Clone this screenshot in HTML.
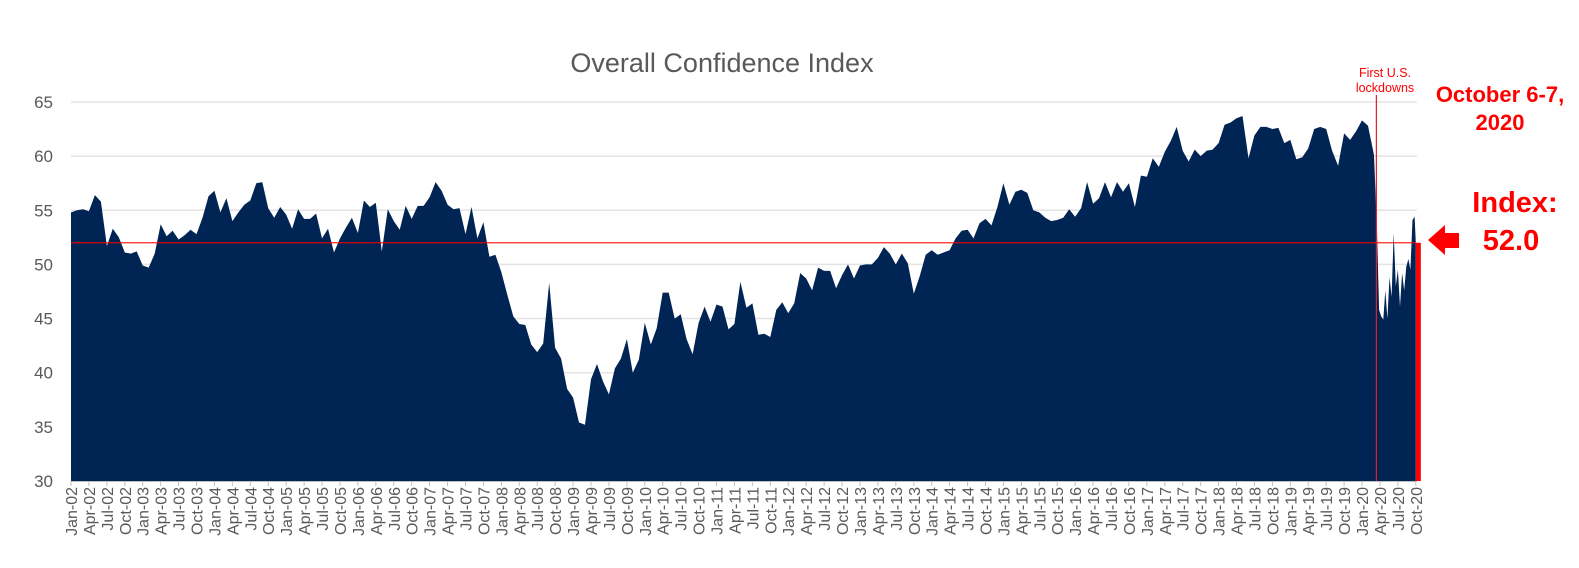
<!DOCTYPE html>
<html><head><meta charset="utf-8">
<style>
html,body{margin:0;padding:0;background:#fff;}
svg{display:block;font-family:"Liberation Sans",Arial,sans-serif;}
</style></head>
<body>
<svg id="chart" width="1579" height="568" viewBox="0 0 1579 568">
  <text x="722" y="72" text-anchor="middle" font-size="27" fill="#595959">Overall Confidence Index</text>
  <g id="grid"></g>
  <g id="ylabels"></g>
  <g id="area"></g>
  <g id="xaxis"></g>
  <g id="annot">
    <text x="1385" y="77" text-anchor="middle" font-size="12.5" fill="#ff0000">First U.S.</text>
    <text x="1385" y="92" text-anchor="middle" font-size="12.5" fill="#ff0000">lockdowns</text>
    <text x="1500" y="102" text-anchor="middle" font-size="22" font-weight="bold" fill="#ff0000">October 6-7,</text>
    <text x="1500" y="130" text-anchor="middle" font-size="22" font-weight="bold" fill="#ff0000">2020</text>
    <text x="1515" y="212" text-anchor="middle" font-size="29" font-weight="bold" fill="#ff0000">Index:</text>
    <text x="1511" y="250" text-anchor="middle" font-size="29" font-weight="bold" fill="#ff0000">52.0</text>
    <polygon points="1428,240 1445,225 1445,233 1459,233 1459,248 1445,248 1445,255" fill="#ff0000"/>
  </g>
</svg>
<script>
// Monthly values Jan-02 .. Mar-20
const monthlyValues = [
54.8,55,55.1,54.9,56.4,55.8,51.7,53.3,52.5,51.1,51,51.2,
49.9,49.7,51,53.7,52.6,53.1,52.3,52.7,53.2,52.8,54.3,56.3,
56.8,54.8,56.1,54,54.8,55.5,55.9,57.5,57.6,55.2,54.3,55.3,
54.6,53.3,55.1,54.2,54.2,54.7,52.4,53.3,51.1,52.4,53.4,54.3,
52.9,55.9,55.3,55.7,51.2,55.1,54,53.2,55.4,54.2,55.4,55.4,
56.2,57.6,56.8,55.5,55.1,55.2,52.8,55.3,52.4,53.9,50.7,50.9,
49.3,47.2,45.2,44.5,44.4,42.6,41.9,42.7,48.3,42.3,41.3,38.5,
37.7,35.4,35.2,39.4,40.8,39.2,38,40.4,41.3,43.1,40,41.2,
44.6,42.6,44.1,47.4,47.4,45,45.4,43.1,41.7,44.6,46.1,44.7,
46.3,46.1,44,44.5,48.4,46,46.4,43.5,43.6,43.3,45.8,46.5,
45.5,46.4,49.2,48.7,47.6,49.7,49.4,49.4,47.8,49,50,48.7,
49.9,50,50,50.6,51.6,51,50,51,50.1,47.3,48.9,50.9,
51.3,50.9,51.1,51.3,52.4,53.1,53.2,52.4,53.8,54.2,53.6,55.3,
57.5,55.5,56.7,56.9,56.6,55,54.8,54.3,54,54.1,54.3,55.1,
54.4,55.2,57.6,55.6,56.1,57.6,56.2,57.6,56.7,57.5,55.3,58.2,
58.1,59.8,59,60.4,61.4,62.7,60.5,59.5,60.6,60,60.5,60.6,
61.2,62.9,63.1,63.5,63.7,59.8,61.9,62.7,62.7,62.5,62.6,61.2,
61.5,59.7,59.9,60.7,62.5,62.7,62.5,60.5,59.1,62.1,61.5,62.3,
63.3,62.8,60.1];
// Weekly values after first U.S. lockdowns (mid-Mar-20 .. early Oct-20)
const covidValues = [53.2,45.8,45.2,44.9,47.6,45.0,48.8,47.0,52.9,48.0,49.5,46.1,49.2,47.6,49.8,50.5,49.5,54.1,54.4];
const latestValue = 52.0;
const lockdownMonth = 218.4;
const yTicks = [30,35,40,45,50,55,60,65];
const monthNames = ["Jan","Apr","Jul","Oct"];

const NS = "http://www.w3.org/2000/svg";
const X0 = 71, STEP = 5.977, Y30 = 481, PPU = 10.83;
const xm = m => X0 + m * STEP;
const yv = v => Y30 - (v - 30) * PPU;
const plotRight = xm(225) + 1;
function mk(tag, attrs, parent){const e=document.createElementNS(NS,tag);for(const k in attrs)e.setAttribute(k,attrs[k]);parent.appendChild(e);return e;}

const grid = document.getElementById('grid');
const yl = document.getElementById('ylabels');
yTicks.forEach(t=>{
  if (t>30){
    const l = mk('line',{x1:X0,x2:plotRight,y1:yv(t),y2:yv(t),stroke:'#e3e3e3','stroke-width':1.5},grid);
    
    
  }
  const tx = mk('text',{x:53,y:yv(t)+6,'text-anchor':'end','font-size':17,fill:'#595959'},yl);
  tx.textContent = t;
  
  
});

// area
const area = document.getElementById('area');
let pts = [[xm(0), yv(30)]];
monthlyValues.forEach((v,i)=>pts.push([xm(i), yv(v)]));
const cStart = lockdownMonth + 0.1, cEnd = 224.8;
covidValues.forEach((v,i)=>pts.push([xm(cStart + i*(cEnd-cStart)/(covidValues.length-1)), yv(v)]));
pts.push([xm(225), yv(latestValue)]);
pts.push([xm(225), yv(30)]);
const poly = mk('polygon',{points:pts.map(p=>p[0].toFixed(1)+','+p[1].toFixed(1)).join(' '),fill:'#002454'},area);



// index reference line
const hl = mk('line',{x1:X0,x2:xm(225),y1:yv(latestValue),y2:yv(latestValue),stroke:'#ff0000','stroke-width':1.2,'stroke-opacity':0.85},area);


// lockdown line
const ll = mk('line',{x1:xm(lockdownMonth),x2:xm(lockdownMonth),y1:95,y2:yv(30),stroke:'#e0202a','stroke-width':1.2},area);


// latest bar
const rb = mk('rect',{x:xm(225),y:yv(latestValue),width:5,height:yv(30)-yv(latestValue),fill:'#ff0000'},area);



// x axis
const xa = document.getElementById('xaxis');
const base = mk('line',{x1:X0,x2:plotRight,y1:Y30+0.5,y2:Y30+0.5,stroke:'#bfbfbf','stroke-width':1},xa);


for (let m=0; m<=225; m+=3){
  const x = xm(m);
  const tk = mk('line',{x1:x,x2:x,y1:Y30,y2:Y30+5,stroke:'#bfbfbf','stroke-width':1},xa);
  
  
  const yr = 2 + Math.floor(m/12);
  const lab = monthNames[(m%12)/3] + '-' + String(yr).padStart(2,'0');
  const t = mk('text',{x:0,y:0,'text-anchor':'end','font-size':16,fill:'#595959',transform:`translate(${(x+6).toFixed(1)},487) rotate(-90)`},xa);
  t.textContent = lab;
  
  
}
</script>
</body></html>
